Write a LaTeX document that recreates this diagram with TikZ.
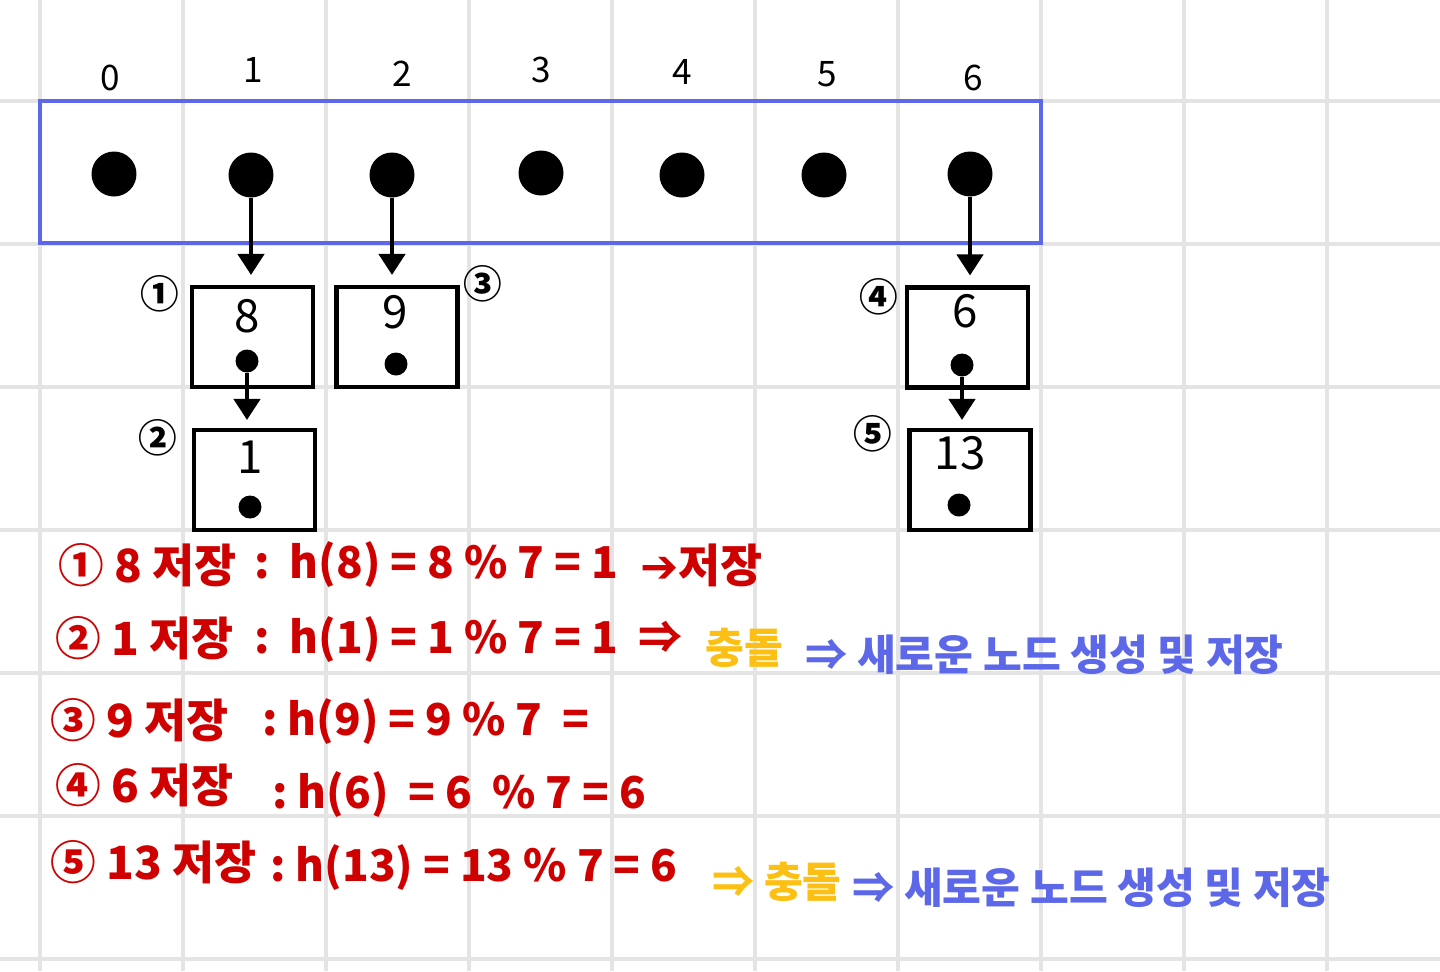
\documentclass[tikz,border=0pt]{standalone}
\usepackage{fontspec}
\setmainfont{Noto Sans CJK KR}
\newfontfamily\symfont{DejaVu Sans}
\usepackage{tikz}
\usetikzlibrary{arrows.meta, positioning}
\definecolor{gridgray}{RGB}{228,228,228}
\definecolor{tblblue}{RGB}{92,104,232}
\definecolor{penred}{RGB}{206,0,0}
\definecolor{penyellow}{RGB}{252,192,20}
\tikzstyle{gridline} = [gridgray, line width=2pt]
\tikzstyle{slot} = [circle, fill=black, minimum size=0.9cm, inner sep=0pt]
\tikzstyle{ptr} = [circle, fill=black, minimum size=0.46cm, inner sep=0pt]
\tikzstyle{chain} = [draw, rectangle, line width=2.4pt, minimum width=2.42cm, minimum height=2cm]

\begin{document}
\begin{tikzpicture}[x=0.02cm, y=-0.02cm, >={Triangle[width=15pt, length=12pt]}]
        % 스타일
        \tikzstyle{table} = [draw=tblblue, rectangle, line width=2.3pt, minimum width=20.02cm, minimum height=2.84cm]
        \tikzstyle{idx} = [font=\fontsize{20}{24}\selectfont]
        \tikzstyle{val} = [font=\fontsize{26}{30}\selectfont]
        \tikzstyle{order} = [font=\fontsize{22}{26}\selectfont\bfseries, inner sep=0pt]
        \tikzstyle{memo} = [anchor=west, inner sep=0pt, text=penred, font=\fontsize{26}{30}\selectfont\bfseries]
        \tikzstyle{formula} = [memo, font=\fontsize{25}{30}\selectfont\bfseries]
        \tikzstyle{remark} = [memo, font=\fontsize{24}{28}\selectfont\bfseries]
        \tikzstyle{link} = [->, line width=2.2pt]

        \useasboundingbox (0,0) rectangle (1440,971);
        \fill[white] (0,0) rectangle (1440,971);

        % 모눈
        \foreach \gx in {40,183,326,469,612,755,898,1041,1184,1327}
            \draw[gridline] (\gx,0) -- (\gx,971);
        \foreach \gy in {101,244,387,530,673,816,959}
            \draw[gridline] (0,\gy) -- (1440,\gy);

        % 해시 테이블
        \node [table] (tbl) at (540.5,172) {};
        \node [slot] (s0) at (114,174) {};
        \node [slot] (s1) at (251,175) {};
        \node [slot] (s2) at (392,175) {};
        \node [slot] (s3) at (541,173) {};
        \node [slot] (s4) at (682,175) {};
        \node [slot] (s5) at (824,175) {};
        \node [slot] (s6) at (970,174) {};

        \node [idx] (i0) at (110,78) {0};
        \node [idx] (i1) at (253,70) {1};
        \node [idx] (i2) at (402,74) {2};
        \node [idx] (i3) at (541,70) {3};
        \node [idx] (i4) at (682,72) {4};
        \node [idx] (i5) at (827,74) {5};
        \node [idx] (i6) at (973,78) {6};

        % 체인 노드
        \node [chain] (b8) at (252.5,337) {};
        \node [chain] (b9) at (397,337) {};
        \node [chain] (b1) at (254.5,480) {};
        \node [chain] (b6) at (967.5,337.5) {};
        \node [chain] (b13) at (970,480) {};

        \node [val] (v8) at (247,316) {8};
        \node [val] (v9) at (395,312) {9};
        \node [val] (v1) at (250,457) {1};
        \node [val] (v6) at (965,311) {6};
        \node [val] (v13) at (960,453) {13};

        \node [ptr] (p8) at (247,361) {};
        \node [ptr] (p9) at (396,364) {};
        \node [ptr] (p1) at (250,507) {};
        \node [ptr] (p6) at (962,365) {};
        \node [ptr] (p13) at (959,505) {};

        \node [order] (o1) at (160,294) {①};
        \node [order] (o2) at (158,438) {②};
        \node [order] (o3) at (483,284) {③};
        \node [order] (o4) at (879,297) {④};
        \node [order] (o5) at (873,434) {⑤};

        \draw [link, shorten >=0.2cm] (s1) -- (s1 |- b8.north);
        \draw [link, shorten >=0.2cm] (s2) -- (s2 |- b9.north);
        \draw [link, shorten >=0.2cm] (s6) -- (s6 |- b6.north);
        \draw [link, shorten >=0.16cm] (p8) -- (p8 |- b1.north);
        \draw [link, shorten >=0.16cm] (p6) -- (p6 |- b13.north);

        % 풀이
        \node [memo] (l1a) at (58,565) {① 8 저장};
        \node [formula] (l1b) at (254,565) {:\ \ h(8) = 8 \% 7 = 1};
        \node [memo] (l1c) at (640,565) {{\symfont ➔}저장};

        \node [memo] (l2a) at (55,638) {② 1 저장};
        \node [formula] (l2b) at (254,640) {:\ \ h(1) = 1 \% 7 = 1\ \ ⇒};
        \node [remark, text=penyellow] (l2c) at (705,648) {충돌};
        \node [remark, text=tblblue] (l2d) at (805,655) {⇒ 새로운 노드 생성 및 저장};

        \node [memo] (l3a) at (50,720) {③ 9 저장};
        \node [formula] (l3b) at (262,722) {:\ h(9) = 9\ \% 7\ \ =};

        \node [memo] (l4a) at (55,785) {④ 6 저장};
        \node [formula] (l4b) at (272,795) {:\ h(6)\ \ = 6\ \ \% 7\ = 6};

        \node [memo] (l5a) at (50,862) {⑤ 13 저장};
        \node [formula] (l5b) at (270,868) {:\ h(13) = 13 \% 7 = 6};
        \node [remark, text=penyellow] (l5c) at (712,882) {⇒ 충돌};
        \node [remark, text=tblblue] (l5d) at (852,888) {⇒ 새로운 노드 생성 및 저장};
    \end{tikzpicture}
\end{document}
